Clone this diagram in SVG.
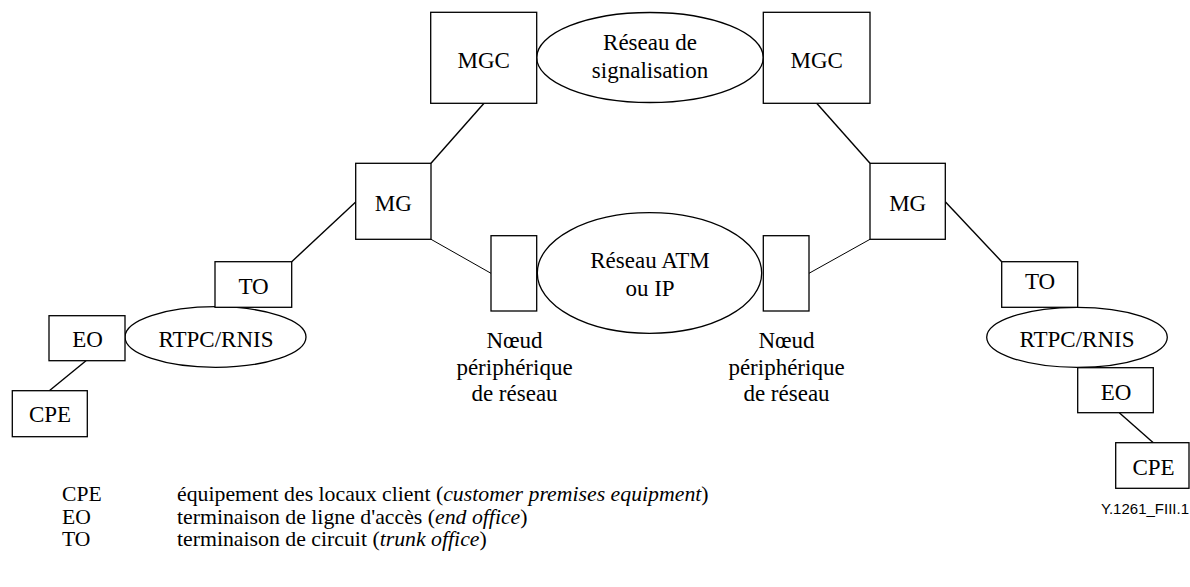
<svg xmlns="http://www.w3.org/2000/svg" width="1190" height="587" viewBox="0 0 1190 587">
  <style>
    .box { fill: #fff; stroke: #000; stroke-width: 1.3; }
    .cloud { fill: #fff; stroke: #000; stroke-width: 1.3; }
    .link { stroke: #000; stroke-width: 1.4; fill: none; }
    .thin { stroke: #000; stroke-width: 1; fill: none; }
    .lbl { font-family: 'Liberation Serif', Tinos, 'Times New Roman', Times, serif; font-size: 23px; fill: #000; text-anchor: middle; }
    .leg { font-family: 'Liberation Serif', Tinos, 'Times New Roman', Times, serif; font-size: 20px; fill: #000; }
    .ref { font-family: 'Liberation Sans', Arial, sans-serif; font-size: 15px; fill: #000; }
  </style>
  <rect width="1190" height="587" fill="#fff"/>

  <!-- connectors -->
  <g id="connectors">
    <line class="link" x1="484" y1="103.3" x2="431" y2="163.3"/>
    <line class="link" x1="816.7" y1="103.3" x2="870" y2="163.3"/>
    <line class="link" x1="355.7" y1="202" x2="291.7" y2="261.7"/>
    <line class="link" x1="945.3" y1="201.7" x2="1001.7" y2="261.7"/>
    <line class="thin" x1="431" y1="239.3" x2="491" y2="273.3"/>
    <line class="thin" x1="809" y1="273.3" x2="870" y2="239.3"/>
    <line class="link" x1="86" y1="360.7" x2="49.3" y2="390.7"/>
    <line class="link" x1="1119.3" y1="412.7" x2="1153.3" y2="442.7"/>
  </g>

  <!-- signalling network -->
  <g id="sig-net">
    <ellipse class="cloud" cx="650" cy="57.5" rx="113.3" ry="45"/>
    <text class="lbl" x="650" y="50">Réseau de</text>
    <text class="lbl" x="650" y="78">signalisation</text>
  </g>
  <g id="mgc-left">
    <rect class="box" x="430.7" y="12.3" width="106" height="91"/>
    <text class="lbl" x="483.7" y="68.3">MGC</text>
  </g>
  <g id="mgc-right">
    <rect class="box" x="763.3" y="12.3" width="106.7" height="91"/>
    <text class="lbl" x="816.7" y="68.3">MGC</text>
  </g>

  <!-- media gateways -->
  <g id="mg-left">
    <rect class="box" x="355.7" y="163.3" width="75.3" height="76"/>
    <text class="lbl" x="393.3" y="210.7">MG</text>
  </g>
  <g id="mg-right">
    <rect class="box" x="870" y="163.3" width="75.3" height="76"/>
    <text class="lbl" x="907.7" y="210.7">MG</text>
  </g>

  <!-- ATM / IP core -->
  <g id="core-net">
    <ellipse class="cloud" cx="649.5" cy="273" rx="112.2" ry="60.3"/>
    <text class="lbl" x="650" y="268.3">Réseau ATM</text>
    <text class="lbl" x="650" y="296">ou IP</text>
  </g>
  <g id="edge-left">
    <rect class="box" x="491" y="235.7" width="45.7" height="75.3"/>
    <text class="lbl" x="514.5" y="348">Nœud</text>
    <text class="lbl" x="514.5" y="374.5">périphérique</text>
    <text class="lbl" x="514.5" y="401">de réseau</text>
  </g>
  <g id="edge-right">
    <rect class="box" x="763.3" y="235.7" width="45.7" height="75.3"/>
    <text class="lbl" x="786.5" y="348">Nœud</text>
    <text class="lbl" x="786.5" y="374.5">périphérique</text>
    <text class="lbl" x="786.5" y="401">de réseau</text>
  </g>

  <!-- left access side -->
  <g id="pstn-left">
    <ellipse class="cloud" cx="215.5" cy="337" rx="90.5" ry="30.3"/>
    <text class="lbl" x="216" y="347.3">RTPC/RNIS</text>
  </g>
  <g id="to-left">
    <rect class="box" x="215" y="261.7" width="76.7" height="45.6"/>
    <text class="lbl" x="253.5" y="294">TO</text>
  </g>
  <g id="eo-left">
    <rect class="box" x="49" y="315.7" width="76" height="45"/>
    <text class="lbl" x="87.5" y="346.7">EO</text>
  </g>
  <g id="cpe-left">
    <rect class="box" x="12.3" y="390.7" width="75" height="46"/>
    <text class="lbl" x="50" y="422">CPE</text>
  </g>

  <!-- right access side -->
  <g id="pstn-right">
    <ellipse class="cloud" cx="1077" cy="337.3" rx="90.3" ry="30"/>
    <text class="lbl" x="1077" y="346.7">RTPC/RNIS</text>
  </g>
  <g id="to-right">
    <rect class="box" x="1001.7" y="261.7" width="76" height="45.6"/>
    <text class="lbl" x="1040" y="289.3">TO</text>
  </g>
  <g id="eo-right">
    <rect class="box" x="1077.7" y="367.7" width="75.6" height="45"/>
    <text class="lbl" x="1116" y="400">EO</text>
  </g>
  <g id="cpe-right">
    <rect class="box" x="1115.7" y="442.7" width="73.3" height="45.6"/>
    <text class="lbl" x="1153.5" y="475">CPE</text>
  </g>

  <text class="ref" x="1189" y="514" text-anchor="end">Y.1261_FIII.1</text>

  <!-- legend: abbreviations and their meanings, slightly widened -->
  <g id="legend">
    <g transform="translate(62 0) scale(1.08 1) translate(-62 0)">
      <text class="leg" x="62" y="501.5">CPE</text>
      <text class="leg" x="62" y="524">EO</text>
      <text class="leg" x="62" y="546.5">TO</text>
    </g>
    <g transform="translate(177 0) scale(1.09 1) translate(-177 0)">
      <text class="leg" x="177" y="501.5">équipement des locaux client (<tspan font-style="italic">customer premises equipment</tspan>)</text>
      <text class="leg" x="177" y="524">terminaison de ligne d'accès (<tspan font-style="italic">end office</tspan>)</text>
      <text class="leg" x="177" y="546.5">terminaison de circuit (<tspan font-style="italic">trunk office</tspan>)</text>
    </g>
  </g>
</svg>
